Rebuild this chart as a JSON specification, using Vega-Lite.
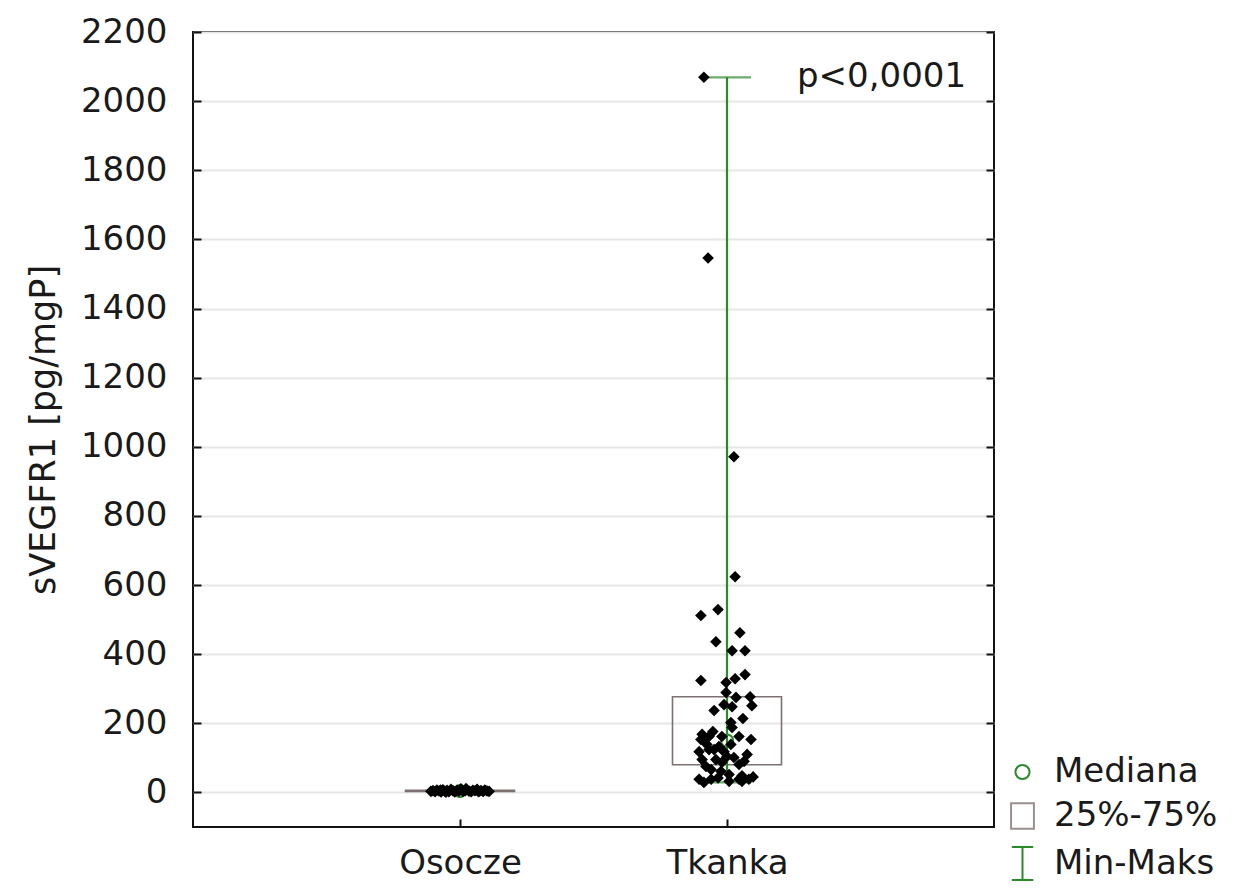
{
  "$schema": "https://vega.github.io/schema/vega-lite/v6.json",
  "width": 801,
  "height": 795,
  "autosize": {"type": "none"},
  "padding": {"left": 193, "top": 32, "right": 257, "bottom": 61},
  "background": "white",
  "config": {
    "view": {"stroke": "#111111", "strokeWidth": 2},
    "font": "DejaVu Sans",
    "axis": {
      "labelFont": "DejaVu Sans",
      "labelFontSize": 34,
      "labelColor": "#1a1a1a",
      "titleFont": "DejaVu Sans",
      "titleFontWeight": "normal",
      "titleColor": "#1a1a1a",
      "domain": false,
      "tickColor": "#111111",
      "tickWidth": 2,
      "tickSize": -8
    }
  },
  "datasets": {
    "summary": [
      {"group": "Osocze", "min": 0.5, "q1": 2.5, "median": 4, "q3": 6.5, "max": 11},
      {"group": "Tkanka", "min": 29, "q1": 80, "median": 150, "q3": 277, "max": 2069}
    ],
    "points": [
      {"group": "Tkanka", "value": 2069, "jitter": -0.77},
      {"group": "Tkanka", "value": 1546, "jitter": -0.63},
      {"group": "Tkanka", "value": 971, "jitter": 0.23},
      {"group": "Tkanka", "value": 624, "jitter": 0.27},
      {"group": "Tkanka", "value": 529, "jitter": -0.3},
      {"group": "Tkanka", "value": 512, "jitter": -0.87},
      {"group": "Tkanka", "value": 462, "jitter": 0.43},
      {"group": "Tkanka", "value": 436, "jitter": -0.37},
      {"group": "Tkanka", "value": 410, "jitter": 0.17},
      {"group": "Tkanka", "value": 410, "jitter": 0.6},
      {"group": "Tkanka", "value": 341, "jitter": 0.6},
      {"group": "Tkanka", "value": 324, "jitter": -0.87},
      {"group": "Tkanka", "value": 318, "jitter": -0.03},
      {"group": "Tkanka", "value": 329, "jitter": 0.27},
      {"group": "Tkanka", "value": 289, "jitter": -0.03},
      {"group": "Tkanka", "value": 277, "jitter": 0.77},
      {"group": "Tkanka", "value": 275, "jitter": 0.3},
      {"group": "Tkanka", "value": 254, "jitter": -0.1},
      {"group": "Tkanka", "value": 251, "jitter": 0.83},
      {"group": "Tkanka", "value": 248, "jitter": 0.17},
      {"group": "Tkanka", "value": 237, "jitter": -0.43},
      {"group": "Tkanka", "value": 214, "jitter": 0.53},
      {"group": "Tkanka", "value": 202, "jitter": 0.13},
      {"group": "Tkanka", "value": 188, "jitter": 0.17},
      {"group": "Tkanka", "value": 176, "jitter": -0.47},
      {"group": "Tkanka", "value": 168, "jitter": -0.83},
      {"group": "Tkanka", "value": 153, "jitter": -0.87},
      {"group": "Tkanka", "value": 162, "jitter": -0.6},
      {"group": "Tkanka", "value": 162, "jitter": -0.17},
      {"group": "Tkanka", "value": 162, "jitter": 0.4},
      {"group": "Tkanka", "value": 153, "jitter": 0.8},
      {"group": "Tkanka", "value": 139, "jitter": -0.67},
      {"group": "Tkanka", "value": 124, "jitter": -0.43},
      {"group": "Tkanka", "value": 118, "jitter": -0.93},
      {"group": "Tkanka", "value": 124, "jitter": -0.6},
      {"group": "Tkanka", "value": 133, "jitter": -0.27},
      {"group": "Tkanka", "value": 139, "jitter": 0.13},
      {"group": "Tkanka", "value": 118, "jitter": -0.1},
      {"group": "Tkanka", "value": 95, "jitter": -0.83},
      {"group": "Tkanka", "value": 95, "jitter": -0.37},
      {"group": "Tkanka", "value": 104, "jitter": 0.0},
      {"group": "Tkanka", "value": 101, "jitter": 0.23},
      {"group": "Tkanka", "value": 110, "jitter": 0.67},
      {"group": "Tkanka", "value": 90, "jitter": 0.57},
      {"group": "Tkanka", "value": 75, "jitter": -0.7},
      {"group": "Tkanka", "value": 87, "jitter": -0.17},
      {"group": "Tkanka", "value": 81, "jitter": 0.4},
      {"group": "Tkanka", "value": 66, "jitter": -0.53},
      {"group": "Tkanka", "value": 61, "jitter": -0.2},
      {"group": "Tkanka", "value": 52, "jitter": 0.07},
      {"group": "Tkanka", "value": 48, "jitter": 0.5},
      {"group": "Tkanka", "value": 38, "jitter": -0.93},
      {"group": "Tkanka", "value": 38, "jitter": -0.53},
      {"group": "Tkanka", "value": 38, "jitter": 0.4},
      {"group": "Tkanka", "value": 38, "jitter": 0.73},
      {"group": "Tkanka", "value": 29, "jitter": -0.77},
      {"group": "Tkanka", "value": 32, "jitter": 0.07},
      {"group": "Tkanka", "value": 32, "jitter": 0.5},
      {"group": "Tkanka", "value": 42, "jitter": -0.3},
      {"group": "Tkanka", "value": 45, "jitter": 0.87},
      {"group": "Osocze", "value": 3.1, "jitter": -0.97},
      {"group": "Osocze", "value": 5.2, "jitter": -0.9},
      {"group": "Osocze", "value": 2.4, "jitter": -0.83},
      {"group": "Osocze", "value": 6.8, "jitter": -0.77},
      {"group": "Osocze", "value": 4.0, "jitter": -0.7},
      {"group": "Osocze", "value": 1.5, "jitter": -0.63},
      {"group": "Osocze", "value": 7.5, "jitter": -0.57},
      {"group": "Osocze", "value": 3.6, "jitter": -0.5},
      {"group": "Osocze", "value": 5.9, "jitter": -0.43},
      {"group": "Osocze", "value": 2.0, "jitter": -0.37},
      {"group": "Osocze", "value": 8.8, "jitter": -0.3},
      {"group": "Osocze", "value": 4.4, "jitter": -0.23},
      {"group": "Osocze", "value": 1.2, "jitter": -0.17},
      {"group": "Osocze", "value": 6.1, "jitter": -0.1},
      {"group": "Osocze", "value": 3.3, "jitter": -0.03},
      {"group": "Osocze", "value": 10.5, "jitter": 0.03},
      {"group": "Osocze", "value": 2.7, "jitter": 0.1},
      {"group": "Osocze", "value": 5.0, "jitter": 0.17},
      {"group": "Osocze", "value": 7.9, "jitter": 0.23},
      {"group": "Osocze", "value": 3.8, "jitter": 0.3},
      {"group": "Osocze", "value": 1.8, "jitter": 0.37},
      {"group": "Osocze", "value": 6.4, "jitter": 0.43},
      {"group": "Osocze", "value": 4.7, "jitter": 0.5},
      {"group": "Osocze", "value": 9.4, "jitter": 0.57},
      {"group": "Osocze", "value": 2.2, "jitter": 0.63},
      {"group": "Osocze", "value": 5.5, "jitter": 0.7},
      {"group": "Osocze", "value": 3.0, "jitter": 0.77},
      {"group": "Osocze", "value": 7.1, "jitter": 0.83},
      {"group": "Osocze", "value": 4.2, "jitter": 0.9},
      {"group": "Osocze", "value": 2.9, "jitter": 0.97},
      {"group": "Osocze", "value": 0.8, "jitter": -0.47},
      {"group": "Osocze", "value": 11.0, "jitter": 0.2},
      {"group": "Osocze", "value": 3.5, "jitter": 0.6},
      {"group": "Osocze", "value": 6.6, "jitter": -0.65}
    ],
    "legendItems": [
      {"item": "Mediana"},
      {"item": "25%-75%"},
      {"item": "Min-Maks"}
    ]
  },
  "layer": [
    {
      "data": {"name": "summary"},
      "mark": {"type": "bar", "width": 109, "fill": "white", "fillOpacity": 0, "stroke": "#7d7070", "strokeWidth": 1.6},
      "encoding": {
        "x": {
          "field": "group",
          "type": "nominal",
          "scale": {"type": "point", "padding": 1, "domain": ["Osocze", "Tkanka"]},
          "axis": {"title": null, "labelAngle": 0, "labelFontSize": 34, "labelPadding": 27, "grid": false}
        },
        "y": {
          "field": "q1",
          "type": "quantitative",
          "scale": {"domain": [-100, 2200], "nice": false, "zero": false},
          "axis": {
            "orient": "left",
            "values": [0, 200, 400, 600, 800, 1000, 1200, 1400, 1600, 1800, 2000, 2200],
            "format": "d",
            "grid": true,
            "gridColor": "#e6e6e6",
            "gridWidth": 2,
            "labelPadding": 34,
            "title": "sVEGFR1 [pg/mgP]",
            "titleFontSize": 35,
            "titlePadding": 19
          }
        },
        "y2": {"field": "q3"}
      }
    },
    {
      "data": {"name": "summary"},
      "mark": {"type": "rule", "color": "#2a8a2a", "strokeWidth": 2.2},
      "encoding": {
        "x": {"field": "group", "type": "nominal"},
        "y": {
          "field": "min",
          "type": "quantitative",
          "axis": {
            "orient": "right",
            "values": [0, 200, 400, 600, 800, 1000, 1200, 1400, 1600, 1800, 2000, 2200],
            "labels": false,
            "grid": false,
            "title": null
          }
        },
        "y2": {"field": "max"}
      }
    },
    {
      "data": {"name": "summary"},
      "mark": {"type": "tick", "color": "#2a8a2a", "size": 48, "thickness": 2.2, "orient": "horizontal"},
      "encoding": {
        "x": {"field": "group", "type": "nominal"},
        "y": {"field": "max", "type": "quantitative", "axis": null}
      }
    },
    {
      "data": {"name": "summary"},
      "mark": {"type": "tick", "color": "#2a8a2a", "size": 48, "thickness": 2.2, "orient": "horizontal"},
      "encoding": {
        "x": {"field": "group", "type": "nominal"},
        "y": {"field": "min", "type": "quantitative", "axis": null}
      }
    },
    {
      "data": {"name": "summary"},
      "mark": {"type": "point", "shape": "circle", "filled": false, "color": "#2a8a2a", "strokeWidth": 2, "size": 150, "opacity": 1},
      "encoding": {
        "x": {"field": "group", "type": "nominal"},
        "y": {"field": "median", "type": "quantitative", "axis": null}
      }
    },
    {
      "data": {"name": "points"},
      "mark": {"type": "point", "shape": "diamond", "filled": true, "color": "#000000", "size": 135, "opacity": 1},
      "encoding": {
        "x": {"field": "group", "type": "nominal"},
        "xOffset": {"field": "jitter", "type": "quantitative", "scale": {"domain": [-1, 1], "range": [-30, 30]}},
        "y": {"field": "value", "type": "quantitative", "axis": null}
      }
    },
    {
      "data": {"values": [{"group": "Tkanka", "value": 2069, "label": "p<0,0001"}]},
      "mark": {"type": "text", "align": "left", "baseline": "middle", "dx": 70, "fontSize": 34, "font": "DejaVu Sans", "color": "#1a1a1a"},
      "encoding": {
        "x": {"field": "group", "type": "nominal"},
        "y": {"field": "value", "type": "quantitative", "axis": null},
        "text": {"field": "label"}
      }
    },
    {
      "data": {"name": "legendItems"},
      "mark": {"type": "point", "filled": false, "opacity": 0, "strokeWidth": 2},
      "encoding": {
        "shape": {
          "field": "item",
          "type": "nominal",
          "scale": {
            "domain": ["Mediana", "25%-75%", "Min-Maks"],
            "range": ["circle", "M-0.9,-1H0.9V1H-0.9Z", "M-0.65,-1H0.65M0,-1V1M-0.65,1H0.65"]
          },
          "legend": {
            "title": null,
            "orient": "none",
            "legendX": 812,
            "legendY": 723,
            "padding": 0,
            "labelFont": "DejaVu Sans",
            "labelFontSize": 34,
            "labelColor": "#1a1a1a",
            "labelLimit": 0,
            "labelOffset": 14,
            "rowPadding": 10,
            "symbolOpacity": 1,
            "symbolStrokeWidth": 2,
            "symbolFillColor": "transparent"
          }
        },
        "stroke": {
          "field": "item",
          "type": "nominal",
          "scale": {
            "domain": ["Mediana", "25%-75%", "Min-Maks"],
            "range": ["#2a8a2a", "#9a8e8e", "#2a8a2a"]
          },
          "legend": {"title": null}
        },
        "size": {
          "field": "item",
          "type": "nominal",
          "scale": {
            "domain": ["Mediana", "25%-75%", "Min-Maks"],
            "range": [200, 1089, 1089]
          },
          "legend": {"title": null}
        }
      }
    }
  ],
  "resolve": {"axis": {"y": "independent"}}
}
